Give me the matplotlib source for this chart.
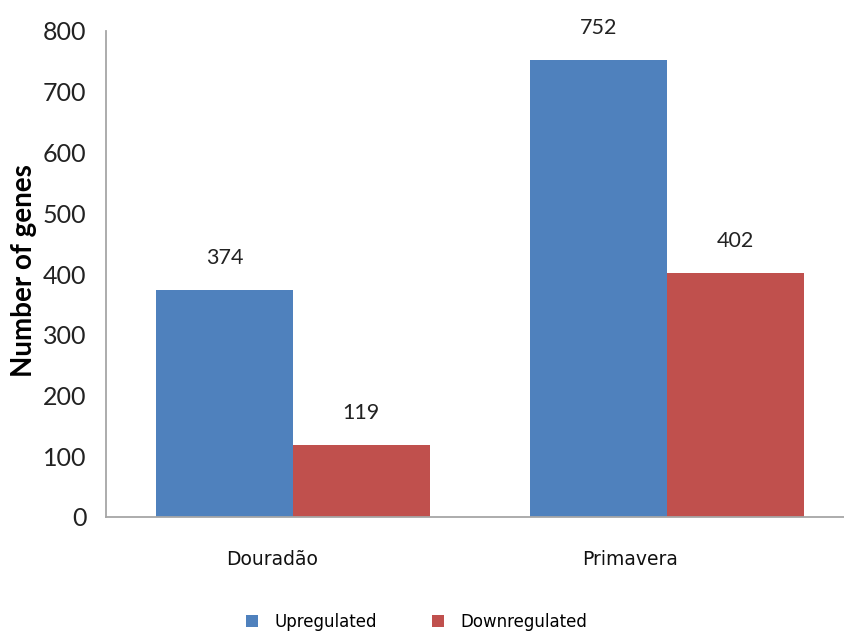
import numpy as np
import matplotlib
matplotlib.use('Agg')
import matplotlib.pyplot as plt
import matplotlib.transforms as mtransforms

# Differentially expressed gene counts per cultivar
cultivars = ["Douradão", "Primavera"]
upregulated = [374, 752]
downregulated = [119, 402]
series_names = ["Upregulated", "Downregulated"]
y_ticks = [0, 100, 200, 300, 400, 500, 600, 700, 800]

blue = "#4F81BD"
red = "#C0504D"
num_font = "Lato"

W, H = 845, 633
ax_left, ax_bottom, ax_top = 106, 517, 31
group_px = 374  # pixels per category slot

fig = plt.figure(figsize=(W / 100, H / 100), dpi=100)
ax = fig.add_axes([ax_left / W, (H - ax_bottom) / H,
                   (W - ax_left) / W, (ax_bottom - ax_top) / H])

x = np.arange(len(cultivars))
bw = 0.365
b1 = ax.bar(x - bw / 2, upregulated, bw, color=blue, label=series_names[0])
b2 = ax.bar(x + bw / 2, downregulated, bw, color=red, label=series_names[1])

for bars in (b1, b2):
    for rect in bars:
        v = rect.get_height()
        ax.annotate(f"{v:d}", (rect.get_x() + rect.get_width() / 2, v),
                    xytext=(0, 23), textcoords="offset points",
                    ha="center", va="center", fontsize=15.5,
                    family=num_font, color="#222222")

# the x axis line runs to the right edge of the figure
ax.set_xlim(-0.5, -0.5 + (W - ax_left) / group_px)
ax.set_ylim(0, 800)
ax.set_yticks(y_ticks)
ax.set_yticklabels([str(t) for t in y_ticks], family=num_font, fontsize=18,
                   color="#222222")
ax.tick_params(axis="y", length=0, pad=14)
ax.set_xticks(x)
ax.set_xticklabels(cultivars, fontsize=13.5, color="#111111")
ax.tick_params(axis="x", length=0, pad=24)
for lbl, dx in zip(ax.get_xticklabels(), [-21, -37]):
    shift = mtransforms.ScaledTranslation(dx / 100, 0, fig.dpi_scale_trans)
    lbl.set_transform(lbl.get_transform() + shift)

ax.set_ylabel("Number of genes", family=num_font, fontweight="bold",
              fontsize=20, color="black")
ax_w = W - ax_left
ax.yaxis.set_label_coords((37 - ax_left) / ax_w, (ax_bottom - 271) / (ax_bottom - ax_top))

for side in ("top", "right"):
    ax.spines[side].set_visible(False)
for side in ("left", "bottom"):
    ax.spines[side].set_color("#A6A6A6")
    ax.spines[side].set_linewidth(1.3)

fig.legend(handles=[b1, b2], loc="center", bbox_to_anchor=(417 / W, (H - 622) / H),
           ncol=2, frameon=False, fontsize=12, handlelength=0.7,
           handleheight=0.7, columnspacing=3.3, handletextpad=1.0)

fig.savefig("out.png", dpi=100)
